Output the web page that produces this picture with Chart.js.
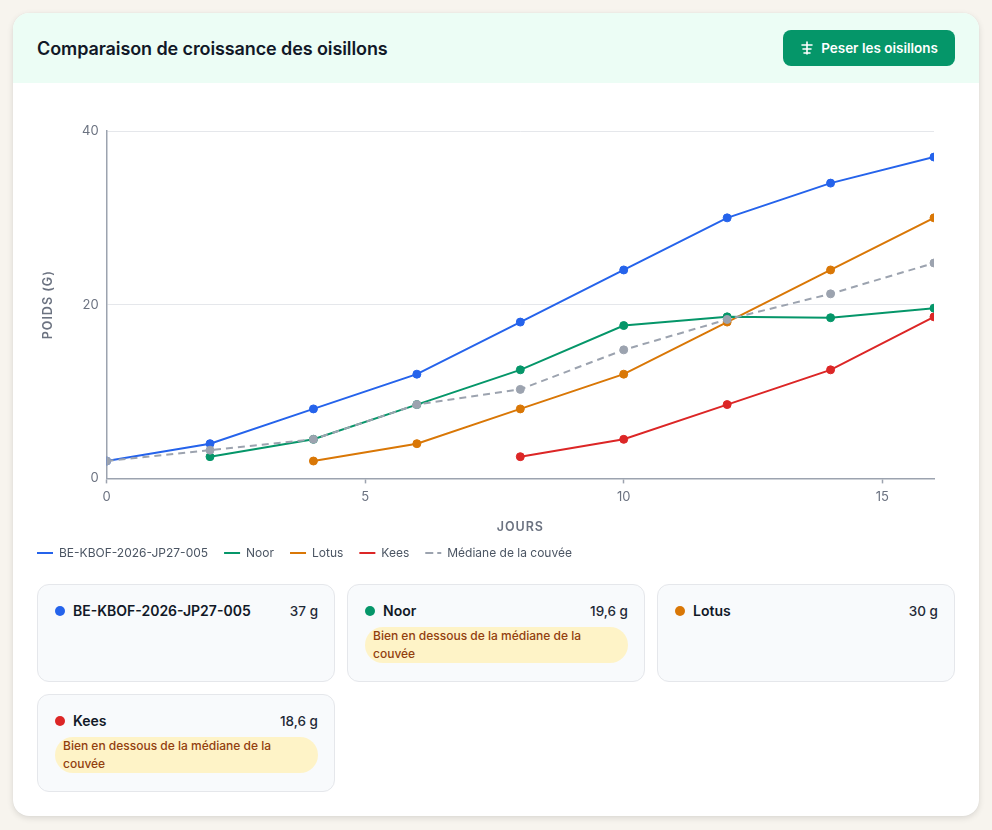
<!DOCTYPE html>
<html lang="fr">
<head>
<meta charset="utf-8">
<script src="https://cdn.jsdelivr.net/npm/chart.js@4/dist/chart.umd.min.js"></script>
<style>
  html, body { margin: 0; padding: 0; }
  body { width: 992px; height: 830px; background: #f7f4ee; font-family: Inter, "Noto Sans", sans-serif; position: relative; overflow: hidden; }
  .card { position: absolute; left: 13px; top: 13px; width: 966px; height: 803px; background: #fff; border-radius: 16px; box-shadow: 0 2px 6px rgba(0,0,0,0.12), 0 0 1px rgba(0,0,0,0.08); overflow: hidden; }
  .head { height: 70px; background: #ecfdf5; display: flex; align-items: center; justify-content: space-between; padding: 0 24px; box-sizing: border-box; }
  .head h2 { margin: 0; font-size: 18px; font-weight: 600; color: #111827; letter-spacing: -0.1px; }
  .btn { background: #059669; color: #fff; border-radius: 8px; height: 36px; width: 172px; display: flex; align-items: center; justify-content: center; gap: 7px; font-size: 13.5px; font-weight: 600; box-sizing: border-box; }
  .chartbox { position: absolute; left: 8px; top: 97px; width: 934px; height: 459px; }
  .cards { position: absolute; left: 24px; top: 571px; width: 918px; display: grid; grid-template-columns: repeat(3, 298px); gap: 12px; }
  .c { background: #f8fafc; border: 1px solid #e5e7eb; border-radius: 12px; padding: 17px 16px 16px 17px; box-sizing: border-box; min-height: 98px; }
  .row { display: flex; align-items: center; justify-content: space-between; font-size: 13.5px; color: #111827; }
  .nm { display: flex; align-items: center; gap: 8px; font-weight: 600; font-size: 14px; }
  .dot { width: 10px; height: 10px; border-radius: 50%; display: inline-block; }
  .val { font-weight: 500; color: #1f2937; }
  .badge { margin-top: 8px; background: #fef3c7; color: #92400e; font-size: 12px; font-weight: 500; line-height: 18px; border-radius: 18px; padding: 0 8px; }
</style>
</head>
<body>
<div class="card">
  <div class="head">
    <h2>Comparaison de croissance des oisillons</h2>
    <div class="btn">
      <svg width="14" height="14" viewBox="0 0 14 14" fill="none" stroke="#fff" stroke-width="1.6" stroke-linecap="round"><path d="M7 1v12M2 4h10M3 8h8M4 12h6"/></svg>
      <span>Peser les oisillons</span>
    </div>
  </div>
  <div class="chartbox"><canvas id="c"></canvas></div>
  <div class="cards" id="cards"></div>
</div>
<script>
const days = [0, 2, 4, 6, 8, 10, 12, 14, 16];
const seriesNames = ["BE-KBOF-2026-JP27-005", "Noor", "Lotus", "Kees", "Médiane de la couvée"];
const blueValues   = [2, 4, 8, 12, 18, 24, 30, 34, 37];
const noorValues   = [null, 2.5, 4.5, 8.5, 12.5, 17.6, 18.6, 18.5, 19.6];
const lotusValues  = [null, null, 2, 4, 8, 12, 18, 24, 30];
const keesValues   = [null, null, null, null, 2.5, 4.5, 8.5, 12.5, 18.6];
const medianValues = [2, 3.25, 4.5, 8.5, 10.25, 14.8, 18.3, 21.25, 24.8];
const xTicks = [0, 5, 10, 15];
const yTicks = [0, 20, 40];
const lastWeights = ["37 g", "19,6 g", "30 g", "18,6 g"];
const badgeText = "Bien en dessous de la médiane de la couvée";
const badges = [false, true, false, true];

const colors = ["#2563eb", "#059669", "#d97706", "#dc2626", "#9ca3af"];
const allValues = [blueValues, noorValues, lotusValues, keesValues, medianValues];

function toPoints(vals) {
  const out = [];
  days.forEach((d, i) => { if (vals[i] !== null) out.push({ x: d, y: vals[i] }); });
  return out;
}

const datasets = allValues.map((vals, i) => ({
  label: seriesNames[i],
  data: toPoints(vals),
  borderColor: colors[i],
  backgroundColor: colors[i],
  pointBackgroundColor: colors[i],
  pointBorderColor: colors[i],
  borderWidth: 2,
  pointRadius: 4,
  pointBorderWidth: 1,
  pointHoverRadius: 5,
  tension: 0,
  borderDash: i === 4 ? [7, 5] : [],
  order: i === 4 ? 0 : 1
}));

Chart.defaults.font.family = 'Inter, "Noto Sans", sans-serif';

const titleSpacing = {
  id: 'titleSpacing',
  beforeDraw(chart) {
    ['x', 'y'].forEach(id => {
      const s = chart.scales[id];
      if (s && !s._lsWrapped) {
        const orig = s.drawTitle.bind(s);
        s.drawTitle = function () {
          const ctx = this.ctx;
          ctx.save();
          ctx.letterSpacing = '1px';
          orig();
          ctx.restore();
        };
        s._lsWrapped = true;
      }
    });
  }
};

new Chart(document.getElementById('c'), {
  type: 'line',
  data: { datasets },
  plugins: [titleSpacing],
  options: {
    responsive: true,
    maintainAspectRatio: false,
    animation: false,
    layout: { padding: { right: 21, top: 21 } },
    plugins: {
      tooltip: { enabled: false },
      legend: {
        position: 'bottom',
        align: 'start',
        labels: {
          boxWidth: 16,
          boxHeight: 0,
          color: '#4b5563',
          font: { size: 12 },
          padding: 16,
          sort: (a, b) => a.datasetIndex - b.datasetIndex,
          generateLabels: (chart) => {
            const items = Chart.defaults.plugins.legend.labels.generateLabels(chart);
            items.forEach(it => {
              const ds = chart.data.datasets[it.datasetIndex];
              it.lineDash = ds.borderDash;
              it.lineWidth = 2;
              it.strokeStyle = ds.borderColor;
              it.fillStyle = ds.borderColor;
            });
            return items;
          }
        }
      }
    },
    scales: {
      x: {
        type: 'linear',
        min: 0,
        max: 16,
        afterBuildTicks: (s) => { s.ticks = xTicks.map(v => ({ value: v })); },
        ticks: { color: '#6b7280', font: { size: 13 }, padding: 6 },
        grid: { color: 'transparent', drawOnChartArea: false, drawTicks: true, tickLength: 5, tickColor: '#9ca3af', tickWidth: 1.5 },
        border: { color: '#9ca3af', width: 1.5 },
        title: { display: true, text: 'JOURS', color: '#6b7280', font: { size: 12.5, weight: '600' }, padding: { top: 9, bottom: -4 } }
      },
      y: {
        min: 0,
        max: 40,
        afterBuildTicks: (s) => { s.ticks = yTicks.map(v => ({ value: v })); },
        ticks: { color: '#6b7280', font: { size: 13 }, padding: 8 },
        grid: { color: '#e5e7eb', drawTicks: false },
        border: { color: '#9ca3af', width: 1.5 },
        title: { display: true, text: 'POIDS (G)', color: '#6b7280', font: { size: 12.5, weight: '600' }, padding: { top: 20, bottom: 18 } }
      }
    }
  }
});

const cardsEl = document.getElementById('cards');
for (let i = 0; i < 4; i++) {
  const d = document.createElement('div');
  d.className = 'c';
  d.innerHTML = `<div class="row"><span class="nm"><span class="dot" style="background:${colors[i]}"></span>${seriesNames[i]}</span><span class="val">${lastWeights[i]}</span></div>` +
    (badges[i] ? `<div class="badge">${badgeText}</div>` : '');
  cardsEl.appendChild(d);
}
</script>
</body>
</html>
